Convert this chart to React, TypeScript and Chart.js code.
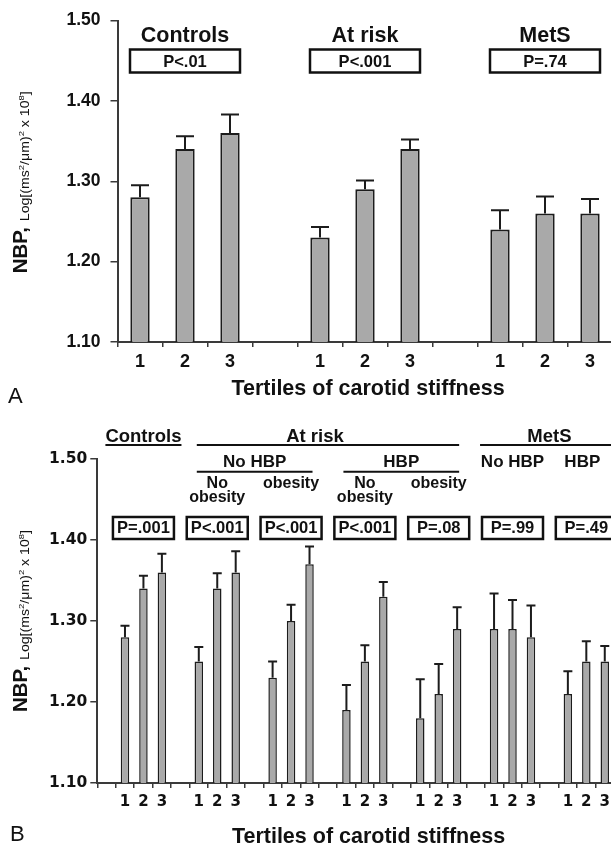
import React, { useEffect, useRef } from "react";
import { Chart, registerables } from "chart.js";

Chart.register(...registerables);

// ---------- Panel A data ----------
const tertileLabelsA = ["1", "2", "3", "", "1", "2", "3", "", "1", "2", "3"];
const meanA = [1.28, 1.34, 1.36, null, 1.23, 1.29, 1.34, null, 1.24, 1.26, 1.26];
const errorTopA = [1.295, 1.356, 1.383, null, 1.243, 1.301, 1.352, null, 1.264, 1.281, 1.278];
const groupNamesA = ["Controls", "At risk", "MetS"];
const pValuesA = ["P<.01", "P<.001", "P=.74"];

// ---------- Panel B data ----------
const tertileLabelsB = ["", "1", "2", "3", "", "1", "2", "3", "", "1", "2", "3", "", "1", "2", "3", "", "1", "2", "3", "", "1", "2", "3", "", "1", "2", "3"];
const meanB = [null, 1.28, 1.34, 1.36, null, 1.25, 1.34, 1.36, null, 1.23, 1.30, 1.37, null, 1.19, 1.25, 1.33, null, 1.18, 1.21, 1.29, null, 1.29, 1.29, 1.28, null, 1.21, 1.25, 1.25];
const errorTopB = [null, 1.294, 1.356, 1.383, null, 1.268, 1.359, 1.386, null, 1.25, 1.32, 1.392, null, 1.221, 1.27, 1.348, null, 1.228, 1.247, 1.317, null, 1.334, 1.326, 1.319, null, 1.238, 1.275, 1.269];
const pValuesB = ["P=.001", "P<.001", "P<.001", "P<.001", "P=.08", "P=.99", "P=.49"];
const topHeadersB = ["Controls", "At risk", "MetS"];
const hbpHeadersB = ["No HBP", "HBP", "No HBP", "HBP"];
const obesityHeadersB = [["No", "obesity"], ["obesity"], ["No", "obesity"], ["obesity"]];

const yTickValues = [1.1, 1.2, 1.3, 1.4, 1.5];
const xAxisTitle = "Tertiles of carotid stiffness";

// ---------- styles ----------
const ARIAL = '"Liberation Sans", Arial, Helvetica, sans-serif';
const DEJAVU = '"DejaVu Sans", Verdana, sans-serif';
const TEXT = "#111111";
const AXIS = "#3a3a3a";
const BAR_FILL = "#a9a9a9";
const BAR_EDGE = "#1c1c1c";
const CANVAS_W = 640;

function groupSpans(values: (number | null)[]) {
  const spans: [number, number][] = [];
  let start = -1;
  values.forEach((v, i) => {
    if (v != null) {
      if (start < 0) start = i;
    } else if (start >= 0) {
      spans.push([start, i - 1]);
      start = -1;
    }
  });
  if (start >= 0) spans.push([start, values.length - 1]);
  return spans;
}

function errorBarPlugin(errTop: (number | null)[], capWidth: number, lineWidth: number) {
  return {
    id: "errorBars",
    afterDatasetsDraw(chart: any) {
      const ctx = chart.ctx;
      const meta = chart.getDatasetMeta(0);
      const yScale = chart.scales.y;
      const vals = chart.data.datasets[0].data;
      ctx.save();
      ctx.strokeStyle = BAR_EDGE;
      ctx.lineWidth = lineWidth;
      meta.data.forEach((bar: any, i: number) => {
        const e = errTop[i];
        const v = vals[i];
        if (e == null || v == null) return;
        const x = bar.x;
        const yTop = yScale.getPixelForValue(v);
        const yE = yScale.getPixelForValue(e);
        ctx.beginPath();
        ctx.moveTo(x, yTop);
        ctx.lineTo(x, yE);
        ctx.moveTo(x - capWidth / 2, yE);
        ctx.lineTo(x + capWidth / 2, yE);
        ctx.stroke();
      });
      ctx.restore();
    },
  };
}

function drawText(ctx: CanvasRenderingContext2D, s: string, x: number, y: number, font: string, align: CanvasTextAlign = "center") {
  ctx.font = font;
  ctx.textAlign = align;
  ctx.textBaseline = "alphabetic";
  ctx.fillStyle = TEXT;
  ctx.fillText(s, x, y);
}

function drawBox(ctx: CanvasRenderingContext2D, cx: number, top: number, w: number, h: number, lw: number) {
  ctx.save();
  ctx.fillStyle = "#ffffff";
  ctx.fillRect(cx - w / 2, top, w, h);
  ctx.lineWidth = lw;
  ctx.strokeStyle = "#111111";
  ctx.strokeRect(cx - w / 2, top, w, h);
  ctx.restore();
}

function drawHLine(ctx: CanvasRenderingContext2D, x1: number, x2: number, y: number, lw: number) {
  ctx.save();
  ctx.strokeStyle = "#111111";
  ctx.lineWidth = lw;
  ctx.beginPath();
  ctx.moveTo(x1, y);
  ctx.lineTo(x2, y);
  ctx.stroke();
  ctx.restore();
}

function drawYTitle(ctx: CanvasRenderingContext2D, xBase: number, yCenter: number, subWidth: number) {
  ctx.save();
  ctx.translate(xBase, yCenter);
  ctx.rotate(-Math.PI / 2);
  ctx.fillStyle = TEXT;
  ctx.textBaseline = "alphabetic";
  ctx.textAlign = "left";
  const big = `bold 20.5px ${ARIAL}`;
  const sm = `12px ${ARIAL}`;
  const sup = `8px ${ARIAL}`;
  const parts: [string, string, number][] = [
    ["Log[(ms", sm, 0],
    ["2", sup, -5],
    ["/\u03bcm)", sm, 0],
    ["2", sup, -5],
    [" x 10", sm, 0],
    ["8", sup, -5],
    ["]", sm, 0],
  ];
  ctx.font = big;
  const head = "NBP,";
  const wHead = ctx.measureText(head + " ").width;
  let wSub = 0;
  parts.forEach(([t, f]) => {
    ctx.font = f;
    wSub += ctx.measureText(t).width;
  });
  const scale = subWidth / wSub;
  const total = wHead + subWidth;
  let px = -total / 2;
  ctx.font = big;
  ctx.fillText(head, px, 0);
  px += wHead;
  ctx.save();
  ctx.translate(px, 2);
  ctx.scale(scale, 1);
  let sx = 0;
  parts.forEach(([t, f, dy]) => {
    ctx.font = f;
    ctx.fillText(t, sx, dy);
    sx += ctx.measureText(t).width;
  });
  ctx.restore();
  ctx.restore();
}

function baseOptions(opts: {
  padTop: number;
  right: number;
  yWidth: number;
  xHeight: number;
  xFont: any;
  yFont: any;
  xPad: number;
  yPad: number;
}) {
  return {
    animation: false,
    responsive: false,
    maintainAspectRatio: false,
    events: [],
    layout: { padding: { top: opts.padTop, right: CANVAS_W - opts.right, left: 0, bottom: 0 } },
    plugins: { legend: { display: false }, tooltip: { enabled: false }, title: { display: false } },
    scales: {
      x: {
        type: "category",
        offset: true,
        grid: { offset: true, drawOnChartArea: false, drawTicks: true, tickLength: 5, color: AXIS, lineWidth: 1.5 },
        border: { display: true, color: AXIS, width: 2 },
        ticks: { color: TEXT, font: opts.xFont, padding: opts.xPad, autoSkip: false, maxRotation: 0, minRotation: 0 },
        afterFit: (s: any) => {
          s.height = opts.xHeight;
        },
      },
      y: {
        type: "linear",
        min: 1.1,
        max: 1.5,
        afterBuildTicks: (s: any) => {
          s.ticks = yTickValues.map((v) => ({ value: v }));
        },
        ticks: { color: TEXT, font: opts.yFont, padding: opts.yPad, callback: (v: any) => Number(v).toFixed(2) },
        grid: { drawOnChartArea: false, drawTicks: true, tickLength: 7, color: AXIS, lineWidth: 1.5 },
        border: { display: true, color: AXIS, width: 2 },
        afterFit: (s: any) => {
          s.width = opts.yWidth;
        },
      },
    },
  };
}

const overlayA = {
  id: "overlayA",
  afterDraw(chart: any) {
    const ctx: CanvasRenderingContext2D = chart.ctx;
    const x = chart.scales.x;
    const area = chart.chartArea;
    const spans = groupSpans(meanA);
    ctx.save();
    spans.forEach(([a, b], k) => {
      const cx = x.getPixelForValue((a + b) / 2);
      drawText(ctx, groupNamesA[k], cx, area.top + 21, `bold 21.5px ${ARIAL}`);
      drawBox(ctx, cx, area.top + 29, 110, 23, 2.5);
      drawText(ctx, pValuesA[k], cx, area.top + 46, `bold 16.5px ${ARIAL}`);
    });
    drawText(ctx, xAxisTitle, (area.left + area.right) / 2 + 3, area.bottom + 53, `bold 21.5px ${ARIAL}`);
    drawText(ctx, "A", 8, 403, `22px ${ARIAL}`, "left");
    drawYTitle(ctx, 27, (area.top + area.bottom) / 2 + 1, 130);
    ctx.restore();
  },
};

const overlayB = {
  id: "overlayB",
  afterDraw(chart: any) {
    const ctx: CanvasRenderingContext2D = chart.ctx;
    const x = chart.scales.x;
    const area = chart.chartArea;
    const spans = groupSpans(meanB);
    const c = (i: number) => x.getPixelForValue(i);
    const mid = (k: number) => c((spans[k][0] + spans[k][1]) / 2);
    const hFont = `bold 18.5px ${ARIAL}`;
    const subFont = `bold 17px ${ARIAL}`;
    const obFont = `bold 16px ${ARIAL}`;
    ctx.save();
    const topY = area.top - 17;
    const lineY = area.top - 14;
    // Controls (underlined text)
    drawText(ctx, topHeadersB[0], mid(0), topY, hFont);
    ctx.font = hFont;
    const wc = ctx.measureText(topHeadersB[0]).width;
    drawHLine(ctx, mid(0) - wc / 2, mid(0) + wc / 2, lineY, 2);
    // At risk
    const arL = c(spans[1][0]) - 2;
    const arR = c(spans[4][1]) + 2;
    drawText(ctx, topHeadersB[1], (arL + arR) / 2 - 13, topY, hFont);
    drawHLine(ctx, arL, arR, lineY, 2);
    // MetS
    const msL = c(spans[5][0]) - 14;
    const msR = c(spans[6][1]) + 30;
    drawText(ctx, topHeadersB[2], (mid(5) + mid(6)) / 2, topY, hFont);
    drawHLine(ctx, msL, msR, lineY, 2);

    // HBP row
    const row2Y = area.top + 8;
    const row2Line = area.top + 12.7;
    const nhL = c(spans[1][0]) - 2;
    const nhR = c(spans[2][1]) + 3;
    drawText(ctx, hbpHeadersB[0], (nhL + nhR) / 2, row2Y, subFont);
    drawHLine(ctx, nhL, nhR, row2Line, 2);
    const hL = c(spans[3][0]) - 3;
    const hR = c(spans[4][1]) + 2;
    drawText(ctx, hbpHeadersB[1], (hL + hR) / 2, row2Y, subFont);
    drawHLine(ctx, hL, hR, row2Line, 2);
    drawText(ctx, hbpHeadersB[2], mid(5), row2Y, subFont);
    drawText(ctx, hbpHeadersB[3], mid(6) - 4, row2Y, subFont);

    // obesity row
    obesityHeadersB.forEach((lines, k) => {
      lines.forEach((t, j) => {
        drawText(ctx, t, mid(k + 1), area.top + 29 + j * 14, obFont);
      });
    });

    // P boxes
    spans.forEach(([a, b], k) => {
      const cx = c((a + b) / 2);
      drawBox(ctx, cx, area.top + 58, 61, 22, 2.5);
      drawText(ctx, pValuesB[k], cx, area.top + 74.3, `bold 16.5px ${ARIAL}`);
    });

    drawText(ctx, xAxisTitle, 368.5, area.bottom + 60, `bold 21.5px ${ARIAL}`);
    drawText(ctx, "B", 10, 431, `22px ${ARIAL}`, "left");
    drawYTitle(ctx, 27, (area.top + area.bottom) / 2, 130);
    ctx.restore();
  },
};

export default function App() {
  const refA = useRef<HTMLCanvasElement | null>(null);
  const refB = useRef<HTMLCanvasElement | null>(null);

  useEffect(() => {
    const chartA = new Chart(refA.current as HTMLCanvasElement, {
      type: "bar",
      data: {
        labels: tertileLabelsA,
        datasets: [
          {
            data: meanA as any,
            backgroundColor: BAR_FILL,
            borderColor: BAR_EDGE,
            borderWidth: 2,
            barPercentage: 0.43,
            categoryPercentage: 1,
          },
        ],
      },
      options: baseOptions({
        padTop: 19,
        right: 612.5,
        yWidth: 117.5,
        xHeight: 68,
        xFont: { family: ARIAL, size: 18, weight: "bold" },
        yFont: { family: ARIAL, size: 17.5, weight: "bold" },
        xPad: 4,
        yPad: 10,
      }) as any,
      plugins: [errorBarPlugin(errorTopA, 18, 2), overlayA],
    });

    const chartB = new Chart(refB.current as HTMLCanvasElement, {
      type: "bar",
      data: {
        labels: tertileLabelsB,
        datasets: [
          {
            data: meanB as any,
            backgroundColor: BAR_FILL,
            borderColor: BAR_EDGE,
            borderWidth: 1.5,
            barPercentage: 0.46,
            categoryPercentage: 1,
          },
        ],
      },
      options: baseOptions({
        padTop: 49,
        right: 614,
        yWidth: 97.3,
        xHeight: 62,
        xFont: { family: DEJAVU, size: 15, weight: "bold" },
        yFont: { family: DEJAVU, size: 15.5, weight: "bold" },
        xPad: 5,
        yPad: 3,
      }) as any,
      plugins: [errorBarPlugin(errorTopB, 9, 2), overlayB],
    });

    return () => {
      chartA.destroy();
      chartB.destroy();
    };
  }, []);

  return (
    <div
      style={{
        position: "absolute",
        left: 0,
        top: 0,
        width: 611,
        height: 845,
        overflow: "hidden",
        background: "#ffffff",
      }}
    >
      <canvas
        ref={refA}
        width={CANVAS_W}
        height={410}
        style={{ position: "absolute", left: 0, top: 0, width: CANVAS_W, height: 410 }}
      />
      <canvas
        ref={refB}
        width={CANVAS_W}
        height={435}
        style={{ position: "absolute", left: 0, top: 410, width: CANVAS_W, height: 435 }}
      />
    </div>
  );
}
